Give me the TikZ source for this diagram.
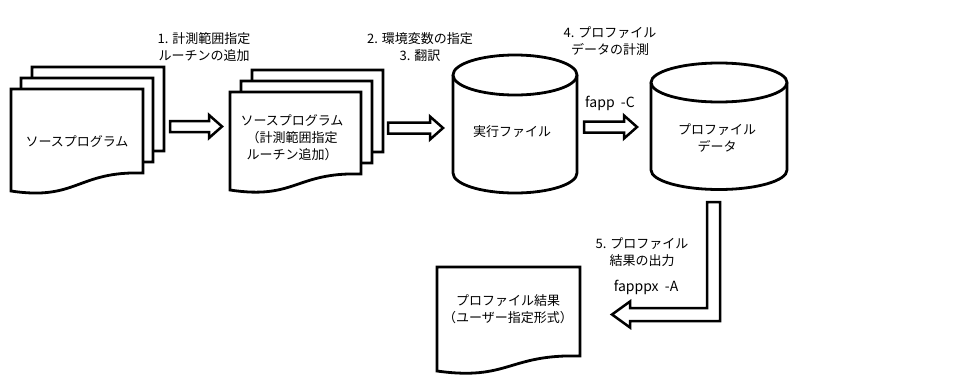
\documentclass[tikz,border=0pt]{standalone}
\usepackage{fontspec}
\setmainfont{Noto Sans CJK JP}
\newcommand\docpage[5]{% x0, top, w, hR, hL
  \path[shp] (#1,-#2) -- ({#1+#3},-#2) -- ({#1+#3},{-(#2+#4)})
    .. controls ({#1+0.5*#3},{-(#2+#4-2)}) and ({#1+0.5*#3},{-(#2+#5+10)}) .. (#1,{-(#2+#5)}) -- cycle;}
\newcommand\cyl[5]{% x0, x1, ytopcenter, ybotcenter, ry
  \path[shp] (#1,-#3) -- (#1,-#4) arc[start angle=180,end angle=360,x radius={(#2-#1)/2*1pt},y radius=#5pt] -- (#2,-#3);
  \path[shp] ({(#1+#2)/2},-#3) ellipse[x radius={(#2-#1)/2*1pt},y radius=#5pt];}
\newcommand\rarrow[3]{% x start, x tip, yc
  \path[blk] (#1,{-(#3-5.5)}) -- ({#2-13},{-(#3-5.5)}) -- ({#2-13},{-(#3-11.5)}) -- (#2,-#3)
    -- ({#2-13},{-(#3+11.5)}) -- ({#2-13},{-(#3+5.5)}) -- (#1,{-(#3+5.5)}) -- cycle;}
\begin{document}
\begin{tikzpicture}[x=1pt,y=1pt,
  shp/.style={draw=black, fill=white, line width=2.8pt, line join=miter},
  blk/.style={draw=black, fill=white, line width=2.5pt, line join=miter},
  lbl/.style={align=center, inner sep=0pt, font=\fontsize{13}{17}\selectfont},
  cmd/.style={align=center, inner sep=0pt, font=\fontsize{14}{17}\selectfont}]
\useasboundingbox (0,0) rectangle (976,-388);
% source program stack
\docpage{32}{67}{132}{84}{100}
\docpage{21}{78}{132}{84}{100}
\docpage{11}{89}{132}{84}{102}
\node[lbl] (src) at (77,-141) {ソースプログラム};
% modified source stack
\docpage{252}{70}{131}{82}{98}
\docpage{241}{81}{131}{82}{98}
\docpage{230}{92}{131}{82}{98}
\node[lbl] (src2) at (292,-137.5) {ソースプログラム\\（計測範囲指定\\ルーチン追加）};
% executable
\cyl{453}{577}{75}{173}{20}
\node[lbl] (exe) at (512,-132) {実行ファイル};
% profile data
\cyl{651}{787}{82.5}{170}{19.5}
\node[lbl] (pdat) at (717,-137.5) {プロファイル\\データ};
% result document
\docpage{437}{267}{143}{89}{104}
\node[lbl] (res) at (508,-309) {プロファイル結果\\（ユーザー指定形式）};
% arrows
\rarrow{170}{222}{126.5}
\rarrow{388}{443}{128}
\rarrow{584}{637}{127}
\path[blk] (707,-202) -- (720,-202) -- (720,-321) -- (630,-321) -- (630,-327.5)
  -- (612,-314.5) -- (630,-301.5) -- (630,-308) -- (707,-308) -- cycle;
% labels
\node[lbl] (l1) at (204,-47) {1. 計測範囲指定\\ルーチンの追加};
\node[lbl] (l2) at (420,-47) {2. 環境変数の指定\\3. 翻訳};
\node[lbl] (l4) at (610,-41.5) {4. プロファイル\\データの計測};
\node[cmd] (c1) at (610,-103) {fapp \ -C};
\node[lbl] (l5) at (642,-252.5) {5. プロファイル\\結果の出力};
\node[cmd] (c2) at (646,-287) {fapppx \ -A};
\end{tikzpicture}
\end{document}
